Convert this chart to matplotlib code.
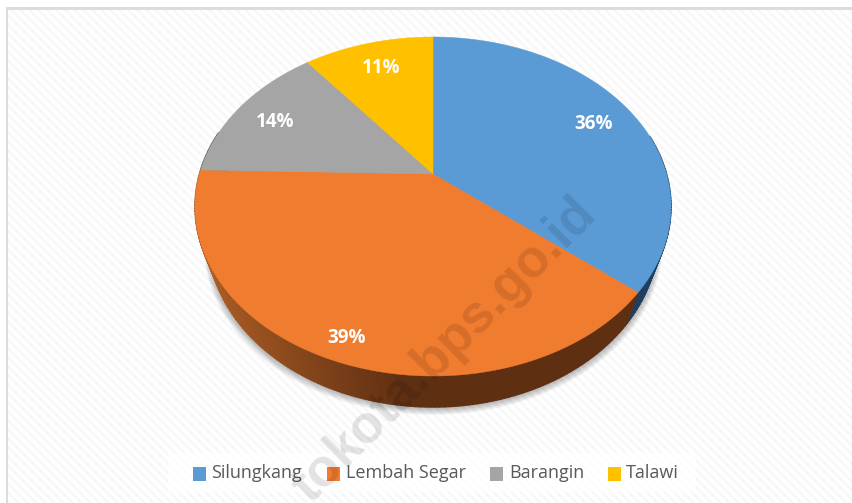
import numpy as np

import matplotlib
matplotlib.use('Agg')
import matplotlib.pyplot as plt
from matplotlib.patches import Polygon, Rectangle


# data
regions = ['Silungkang', 'Lembah Segar', 'Barangin', 'Talawi']
shares = [36, 39.4, 14, 10.6]
colors = ['#5B9BD5', '#F07C30', '#A5A5A5', '#FFC000']
wall_colors = ['#1F3F60', '#5F2F12', '#4A4A4A', '#6B5100']
label_positions = [(594, 124), (347, 338), (275, 122), (381, 68)]
legend_squares = [193, 327.5, 490, 608]
legend_texts = [211, 346, 509, 626]

WIDTH, HEIGHT = 853, 503

# perspective of the pie, in pixels
CX, CY = 433, 174
K = 0.1917
A = 163.3
B = 233.6
DEPTH = 31
BOTTOM_SCALE = 0.945


def Project(theta, bottom=False):
    """
    Project angles on the pie (clockwise from the top, degrees) to pixels

    @param theta: array of angles
    @param bottom: use the lower face of the disk
    """
    rad = np.radians(theta)
    u, v = np.sin(rad), np.cos(rad)
    w = 1 + K * v
    if bottom:
        return CX + BOTTOM_SCALE * B * u / w, CY + DEPTH - A * v / w
    return CX + B * u / w, CY - A * v / w


def WallColor(x):
    """
    Shade of the orange wall, lighter at the left

    @param x: pixel column of the wall
    """
    light = np.array([170, 92, 36]) / 255
    dark = np.array([95, 47, 18]) / 255
    t = np.clip((x - 205) / 200, 0, 1)
    return tuple(light + (dark - light) * t)


fig = plt.figure(figsize=(WIDTH / 100, HEIGHT / 100), dpi=100)
ax = fig.add_axes([0, 0, 1, 1])

# striped chart background
rows, cols = np.mgrid[0:HEIGHT, 0:WIDTH]
stripes = np.where((cols - rows) % 9 < 4, 0.97, 1.0)
ax.imshow(stripes, cmap='gray', vmin=0, vmax=1, extent=(0, WIDTH, HEIGHT, 0),
          interpolation='nearest', aspect='auto', zorder=0)
ax.set_xlim(0, WIDTH)
ax.set_ylim(HEIGHT, 0)
ax.axis('off')

# white margin and frame
ax.add_patch(Rectangle((0, 0), WIDTH, 7, color='white', zorder=1))
ax.add_patch(Rectangle((0, 0), 6, HEIGHT, color='white', zorder=1))
ax.add_patch(Rectangle((6, 7), WIDTH, 2.5, color='#DCDCDC', lw=0, zorder=1))
ax.add_patch(Rectangle((6, 7), 2.5, HEIGHT, color='#DCDCDC', lw=0, zorder=1))

# soft shadow under the disk
circle = np.linspace(0, 360, 361)
sx, sy = Project(circle, bottom=True)
for grow in np.arange(1, 11):
    ax.add_patch(Polygon(np.column_stack([CX + (sx - CX) * (1 + grow / 500), sy + grow * 0.8]),
                         facecolor='black', edgecolor='none', alpha=0.03, zorder=2))

# disk wall, a thin slice per step
edges = np.cumsum([0] + shares) * 3.6
for start, stop, wall, name in zip(edges[:-1], edges[1:], wall_colors, regions):
    steps = np.arange(start, stop + 1, 1.0)
    for t0, t1 in zip(steps[:-1], steps[1:]):
        if 75 < t0 < 285:
            x0, y0 = Project(t0)
            x1, y1 = Project(t1)
            x2, y2 = Project(t1, bottom=True)
            x3, y3 = Project(t0, bottom=True)
            shade = WallColor(x0) if name == 'Lembah Segar' else wall
            ax.add_patch(Polygon([(x0, y0), (x1, y1), (x2, y2), (x3, y3)], facecolor=shade,
                                 edgecolor=shade, lw=1.0, zorder=3))

# top face
for start, stop, color in zip(edges[:-1], edges[1:], colors):
    x, y = Project(np.linspace(start, stop, 200))
    ax.add_patch(Polygon(np.column_stack([np.r_[CX, x], np.r_[CY, y]]), facecolor=color,
                         edgecolor=color, lw=0.3, zorder=4))

# value labels
for share, (lx, ly) in zip(shares, label_positions):
    ax.text(lx, ly, '{:.0f}%'.format(share), color='white', fontsize=13.5, fontweight='bold',
            family='Open Sans', ha='center', va='center', zorder=6)

# legend band
ax.add_patch(Rectangle((168, 453), 528, 39, facecolor='white', edgecolor='none', alpha=0.85, zorder=5))
for region, color, square, label in zip(regions, colors, legend_squares, legend_texts):
    ax.add_patch(Rectangle((square, 467), 13, 13.5, facecolor=color, edgecolor='none', zorder=6))
    ax.text(label, 473, region, color='#595959', fontsize=13, family='Open Sans',
            ha='left', va='center', zorder=6)

# watermark over everything
ax.text(588, 207, 'tokota.bps.go.id', color='black', alpha=0.11, fontsize=38, fontweight='bold',
        family='Liberation Sans', rotation=45, rotation_mode='anchor', ha='right', va='center',
        zorder=7, clip_on=True)

plt.savefig('out.png', dpi=100)
